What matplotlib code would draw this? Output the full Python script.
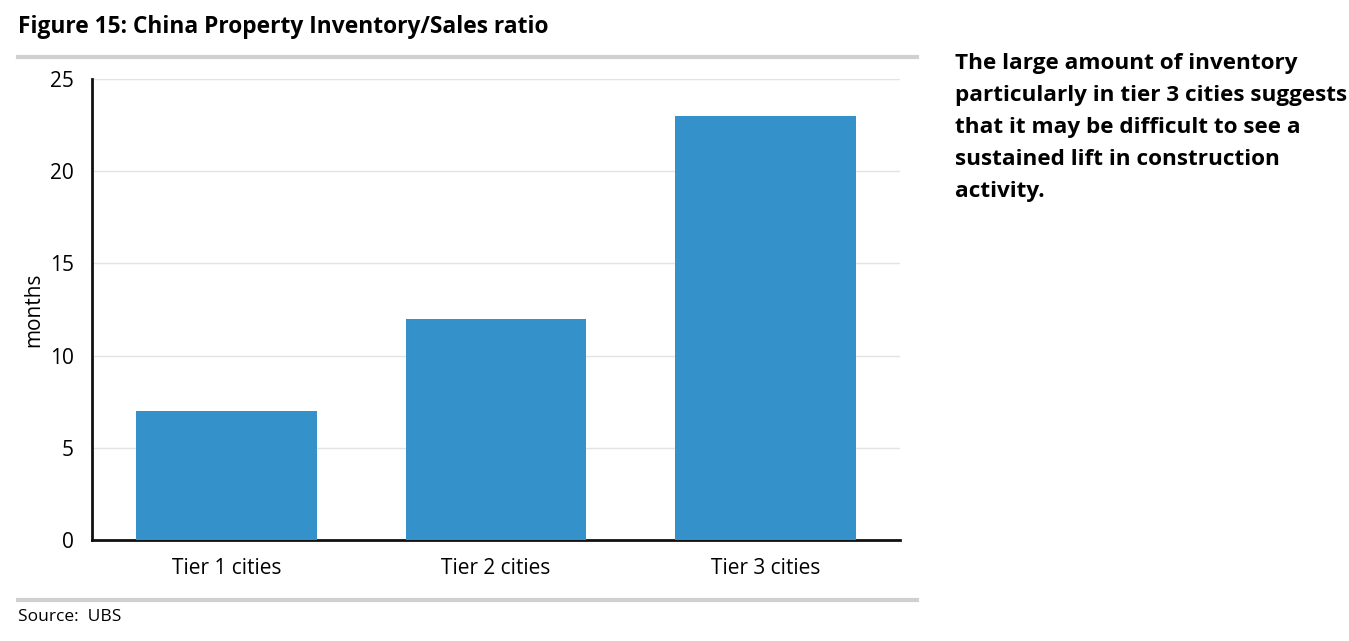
import matplotlib
matplotlib.use("Agg")
import matplotlib.pyplot as plt
from matplotlib.lines import Line2D

categories = ["Tier 1 cities", "Tier 2 cities", "Tier 3 cities"]
values = [7, 12, 23]
yticks = [0, 5, 10, 15, 20, 25]

plt.rcParams['font.family'] = ['Open Sans', 'DejaVu Sans']

fig = plt.figure(figsize=(13.49, 6.41), dpi=100)
ax = fig.add_axes([92/1349, 1-540/641, (900-92)/1349, (540-79)/641])

x = range(len(categories))
ax.bar(x, values, width=0.67, color="#3591ca", zorder=3)
ax.set_xlim(-0.5, 2.5)
ax.set_ylim(0, 25)
ax.set_yticks(yticks)
ax.set_xticks(list(x))
ax.set_xticklabels(categories, fontsize=15)
ax.tick_params(axis='y', labelsize=15, length=0, pad=13)
ax.tick_params(axis='x', length=0, pad=13)
ax.grid(axis='y', color="#e3e3e3", linewidth=1, zorder=0)
for s in ["top", "right"]:
    ax.spines[s].set_visible(False)
ax.spines["left"].set_linewidth(2)
ax.spines["bottom"].set_linewidth(2)
ax.spines["left"].set_color("#111111")
ax.spines["bottom"].set_color("#111111")
ax.set_ylabel("months", fontsize=15, labelpad=4)

fig.text(18/1349, 1-27/641, "Figure 15: China Property Inventory/Sales ratio",
         fontsize=16.35, fontweight="bold", va="center", ha="left")
fig.add_artist(Line2D([18/1349, 917/1349], [1-57/641, 1-57/641], color="#d0d0d0", linewidth=3))
fig.add_artist(Line2D([18/1349, 917/1349], [1-600/641, 1-600/641], color="#d0d0d0", linewidth=3))
fig.text(18/1349, 1-617/641, "Source:  UBS", fontsize=12.5, va="center", ha="left")

side = ("The large amount of inventory\nparticularly in tier 3 cities suggests\n"
        "that it may be difficult to see a\nsustained lift in construction\nactivity.")
fig.text(955/1349, 1-53/641, side, fontsize=16.2, fontweight="bold", va="top", ha="left",
         linespacing=1.68)

fig.savefig("out.png", dpi=100)
